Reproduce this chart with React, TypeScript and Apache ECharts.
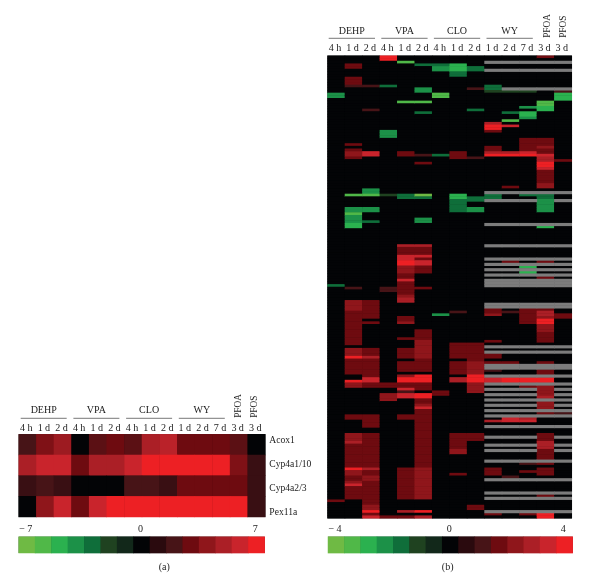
import React, { useEffect, useRef } from "react";
import * as echarts from "echarts";

const FONT = "'Liberation Serif', serif";
const INK = "#1c1c1c";

// colour key, level -7 (green) .. 0 (black) .. +7 (red)
const keyColors = ["#6fba44", "#50b848", "#2bb14f", "#1c9148", "#0f6e3a", "#1f4220", "#12281a", "#030406", "#2a0a0e", "#471417", "#6e0b10", "#8f161b", "#ab1f26", "#c9242c", "#ed2024"];
const keyLevels = [-7, -6, -5, -4, -3, -2, -1, 0, 1, 2, 3, 4, 5, 6, 7];
const keyLabelsA = ["−7", "", "", "", "", "", "", "0", "", "", "", "", "", "", "7"];
const keyLabelsB = ["−4", "", "", "", "", "", "", "0", "", "", "", "", "", "", "4"];

const columnsA = ["4h", "1d", "2d", "4h", "1d", "2d", "4h", "1d", "2d", "1d", "2d", "7d", "3d", "3d"];
const columnsB = columnsA;
const groups = ["DEHP", "VPA", "CLO", "WY"];
const singles = ["PFOA", "PFOS"];
const genes = ["Acox1", "Cyp4a1/10", "Cyp4a2/3", "Pex11a"];

// panel (a): one row per gene
const acox1 = [2, 3.5, 4.5, 0, 2.5, 3, 2.5, 5, 5.5, 3, 3, 3, 2.5, 0];
const cyp4a1 = [5, 6, 6, 3, 5, 5, 6, 7, 7, 7, 7, 7, 3.5, 1.5];
const cyp4a2 = [1.5, 2, 1.5, 0, 0, 0, 2, 2, 1.5, 3, 3, 3, 3, 1.5];
const pex11a = [0, 4, 6, 3, 6, 7, 7, 7, 7, 7, 7, 7, 7, 1.5];
const rowsA = [acox1, cyp4a1, cyp4a2, pex11a];

// panel (b): sparse runs per column, [first gene row, row after last, colour level]
const ROWS_B = 174;
const dehp4h = [[14, 16, -4], [86, 87, -3], [167, 168, 3]];
const dehp1d = [[3, 5, 3], [8, 11, 3], [11, 12, 2], [33, 34, 3], [35, 36, 3], [36, 38, 4], [38, 39, 3], [52, 53, -6], [57, 59, -4], [59, 60, -6], [60, 63, -4], [63, 65, -5], [87, 88, 2], [92, 96, 4], [96, 109, 3], [110, 113, 4], [113, 114, 7], [114, 120, 3], [122, 123, 7], [123, 125, 4], [135, 137, 3], [142, 145, 4], [145, 146, 5], [146, 155, 3], [155, 156, 7], [156, 158, 4], [158, 160, 3], [160, 161, 4], [161, 162, 6], [162, 167, 3]];
const dehp2d = [[11, 12, 2], [20, 21, 2], [36, 38, 6], [50, 52, -4], [52, 53, -6], [57, 59, -4], [62, 63, -3], [92, 99, 3], [100, 101, 3], [110, 113, 3], [113, 114, 5], [114, 121, 3], [121, 123, 6], [123, 125, 3], [135, 140, 3], [142, 155, 3], [155, 156, 5], [156, 158, 3], [158, 160, 4], [160, 167, 3], [167, 169, 3], [169, 171, 4], [171, 172, 7], [172, 173, 3], [173, 174, 6]];
const vpa4h = [[0, 2, 7], [11, 12, -3], [28, 31, -4], [52, 53, -2], [87, 89, 2], [123, 125, 3], [127, 130, 4], [173, 174, 3]];
const vpa1d = [[2, 3, -6], [17, 18, -6], [36, 38, 3], [52, 54, -3], [71, 72, 5], [72, 75, 3], [75, 77, 6], [77, 79, 7], [79, 82, 4], [82, 84, 3], [84, 85, 6], [85, 87, 3], [87, 90, 3], [90, 91, 4], [91, 93, 5], [98, 100, 3], [100, 101, 4], [106, 107, 3], [110, 114, 3], [115, 119, 3], [120, 121, 4], [121, 123, 7], [123, 125, 3], [125, 126, 6], [126, 127, 2], [127, 129, 6], [135, 137, 3], [155, 167, 3], [171, 172, 5], [173, 174, 3]];
const vpa2d = [[3, 4, -3], [12, 14, -4], [17, 18, -6], [21, 22, -3], [37, 38, 2], [40, 41, 3], [52, 53, -7], [53, 54, -3], [61, 63, -4], [71, 72, 5], [72, 75, 3], [75, 76, 6], [76, 77, 3], [77, 79, 6], [79, 82, 3], [87, 88, 3], [103, 107, 3], [107, 114, 4], [114, 119, 3], [120, 123, 7], [123, 126, 3], [127, 129, 7], [129, 131, 3], [131, 132, 4], [132, 133, 6], [133, 155, 3], [155, 167, 4], [171, 172, 7], [173, 174, 5]];
const clo4h = [[3, 4, -3], [4, 6, -4], [14, 16, -6], [37, 38, -3], [97, 98, -4], [126, 128, 3]];
const clo1d = [[3, 6, -5], [6, 8, -3], [36, 39, 3], [52, 54, -5], [54, 59, -3], [96, 97, 2], [108, 114, 3], [115, 120, 3], [121, 123, 5], [142, 148, 3], [148, 150, 4], [157, 158, 3]];
const clo2d = [[4, 6, -3], [12, 13, 2], [20, 21, -3], [38, 39, 2], [53, 55, -3], [57, 59, -4], [108, 115, 3], [115, 120, 4], [120, 123, 7], [123, 127, 4], [142, 145, 3], [169, 171, 3]];
const wy1d = [[11, 13, -3], [13, 14, -2], [25, 26, 5], [26, 28, 7], [28, 29, 3], [34, 36, 3], [36, 37, 5], [37, 38, 7], [52, 54, -3], [95, 97, 3], [97, 98, 4], [107, 108, 3], [112, 114, 3], [115, 116, 3], [118, 119, 2], [121, 123, 6], [137, 138, 5], [155, 158, 3], [172, 173, 3]];
const wy2d = [[13, 14, -2], [21, 22, -3], [24, 25, -6], [26, 27, 6], [36, 37, 5], [37, 38, 7], [49, 50, 3], [77, 78, 3], [96, 97, 2], [115, 116, 3], [121, 123, 7], [136, 138, 6], [158, 159, 2]];
const wy7d = [[13, 14, -2], [19, 20, -4], [21, 23, -5], [23, 24, -4], [31, 36, 3], [36, 37, 6], [37, 38, 7], [52, 53, -3], [79, 80, -5], [81, 82, -5], [95, 101, 3], [121, 123, 7], [124, 125, 3], [136, 137, 5], [137, 138, 6], [153, 154, 2], [156, 157, 3], [172, 173, 3]];
const pfoa3d = [[0, 1, 3], [17, 19, -6], [19, 20, -5], [20, 21, -5], [31, 34, 3], [34, 35, 4], [35, 37, 3], [37, 38, 6], [38, 40, 5], [40, 42, 7], [42, 43, 6], [43, 48, 3], [48, 50, 4], [52, 54, -3], [54, 59, -4], [64, 65, -5], [77, 78, 3], [83, 84, 3], [95, 96, 3], [96, 98, 5], [98, 99, 4], [99, 101, 7], [101, 104, 4], [104, 108, 3], [115, 116, 3], [118, 120, 3], [121, 123, 7], [124, 128, 4], [128, 129, 5], [130, 133, 4], [134, 135, 3], [142, 145, 3], [145, 148, 5], [148, 152, 3], [153, 154, 3], [155, 158, 3], [165, 166, 3], [172, 174, 7]];
const pfos3d = [[13, 14, 2], [14, 17, -5], [39, 40, 3], [97, 99, 3], [134, 135, 2]];
const runsB = [dehp4h, dehp1d, dehp2d, vpa4h, vpa1d, vpa2d, clo4h, clo1d, clo2d, wy1d, wy2d, wy7d, pfoa3d, pfos3d];

// gene rows without a WY / PFOA / PFOS measurement (grey)
const missingRowsB = [2, 5, 12, 51, 54, 63, 71, 76, 78, 80, 82, 84, 85, 86, 93, 94, 109, 111, 116, 117, 120, 123, 125, 127, 129, 131, 133, 135, 139, 143, 146, 148, 152, 159, 164, 166, 171];
const missingColsB = [9, 10, 11, 12, 13];

function cellsA() {
  const out: number[][] = [];
  rowsA.forEach((r, y) => r.forEach((v, x) => out.push([x, y, v])));
  return out;
}
function cellsB() {
  const filled = new Map<string, number>();
  runsB.forEach((runs, x) => runs.forEach(([a, b, v]) => {
    for (let y = a; y < b; y++) filled.set(x + ":" + y, v);
  }));
  const levels: number[][] = [];
  const grey: number[][] = [];
  for (let x = 0; x < runsB.length; x++) {
    for (let y = 0; y < ROWS_B; y++) {
      const v = filled.get(x + ":" + y);
      if (v !== undefined) levels.push([x, y, v]);
      else if (missingColsB.includes(x) && missingRowsB.includes(y)) grey.push([x, y, 1]);
      else levels.push([x, y, 0]);
    }
  }
  return { levels, grey };
}

const panelA = { left: 18.7, top: 434.3, width: 246.6, height: 82.7 };
const panelB = { left: 327.5, top: 55.7, width: 244.3, height: 462.6 };
const barA = { left: 18.7, top: 536.7, width: 246, height: 16.4 };
const barB = { left: 328, top: 536.7, width: 244.7, height: 16.4 };

function header(nameY: number, lineY: number, lineX0: number, step: number, lineW: number, singlesX: number[]) {
  const els: any[] = [];
  groups.forEach((g, i) => {
    const x0 = lineX0 + i * step;
    els.push({ type: "text", x: x0 + lineW / 2, y: nameY, silent: true, style: { text: g, font: `10px ${FONT}`, fill: INK, textAlign: "center", textVerticalAlign: "middle" } });
    els.push({ type: "line", silent: true, shape: { x1: x0, y1: lineY, x2: x0 + lineW, y2: lineY }, style: { stroke: "#555", lineWidth: 0.8 } });
  });
  singles.forEach((s, i) => {
    els.push({ type: "text", x: singlesX[i], y: lineY - 0.5, rotation: Math.PI / 2, silent: true, style: { text: s, font: `9.3px ${FONT}`, fill: INK, textAlign: "left", textVerticalAlign: "middle" } });
  });
  return els;
}

function axisSet(grid: number, cols: string[], rows: number, margin: number) {
  return {
    x: { type: "category", gridIndex: grid, data: cols, position: "top", axisLine: { show: false }, axisTick: { show: false }, splitLine: { show: false }, axisLabel: { interval: 0, margin, fontFamily: FONT, fontSize: 10.1, color: INK, hideOverlap: false } },
    y: { type: "category", gridIndex: grid, inverse: true, data: Array.from({ length: rows }, (_, i) => String(i)), axisLine: { show: false }, axisTick: { show: false }, axisLabel: { show: false }, splitLine: { show: false } },
  };
}

export default function App() {
  const ref = useRef<HTMLDivElement>(null);
  useEffect(() => {
    const chart = echarts.init(ref.current!, undefined, { renderer: "svg" });
    const { levels, grey } = cellsB();
    const sets = [
      axisSet(0, columnsA, rowsA.length, 1.5),
      axisSet(1, columnsB, ROWS_B, 3),
      axisSet(2, keyLabelsA, 1, 3),
      axisSet(3, keyLabelsB, 1, 3),
    ];
    const heat = (i: number, data: number[][]) => ({ type: "heatmap", xAxisIndex: i, yAxisIndex: i, data, silent: true, progressive: 0, emphasis: { disabled: true } });
    const keyCells = keyLevels.map((v, x) => [x, 0, v]);
    chart.setOption({
      animation: false,
      backgroundColor: "#ffffff",
      grid: [panelA, panelB, barA, barB].map((g) => ({ ...g, containLabel: false, show: true, borderWidth: 0, backgroundColor: "#030406" })),
      xAxis: sets.map((s) => s.x),
      yAxis: sets.map((s) => s.y),
      visualMap: [
        { show: false, type: "continuous", min: -7, max: 7, seriesIndex: [0, 1, 2, 3], inRange: { color: keyColors } },
        { show: false, type: "continuous", min: 0, max: 1, seriesIndex: [4], inRange: { color: ["#7c7c7c", "#7c7c7c"] } },
      ],
      series: [
        heat(0, cellsA()),
        heat(1, levels),
        heat(2, keyCells),
        heat(3, keyCells),
        heat(1, grey),
      ],
      graphic: [
        ...header(409.7, 418.3, 20.7, 52.7, 46, [237.7, 254.3]),
        ...header(30.7, 38.3, 328.7, 52.6, 46.3, [547, 562.5]),
        ...genes.map((g, i) => ({ type: "text", x: 269.3, y: 439.3 + i * 24.1, silent: true, style: { text: g, font: `9.6px ${FONT}`, fill: INK, textAlign: "left", textVerticalAlign: "middle" } })),
        { type: "text", x: 164.3, y: 566.7, silent: true, style: { text: "(a)", font: `10px ${FONT}`, fill: INK, textAlign: "center", textVerticalAlign: "middle" } },
        { type: "text", x: 447.7, y: 566.2, silent: true, style: { text: "(b)", font: `10px ${FONT}`, fill: INK, textAlign: "center", textVerticalAlign: "middle" } },
      ],
    });
    return () => chart.dispose();
  }, []);
  return (
    <>
      <style>{`text[style*="10.1px"]{letter-spacing:2.4px}`}</style>
      <div ref={ref} style={{ position: "fixed", left: 0, top: 0, width: 599, height: 587, background: "#fff", filter: "blur(0.35px)" }} />
    </>
  );
}
